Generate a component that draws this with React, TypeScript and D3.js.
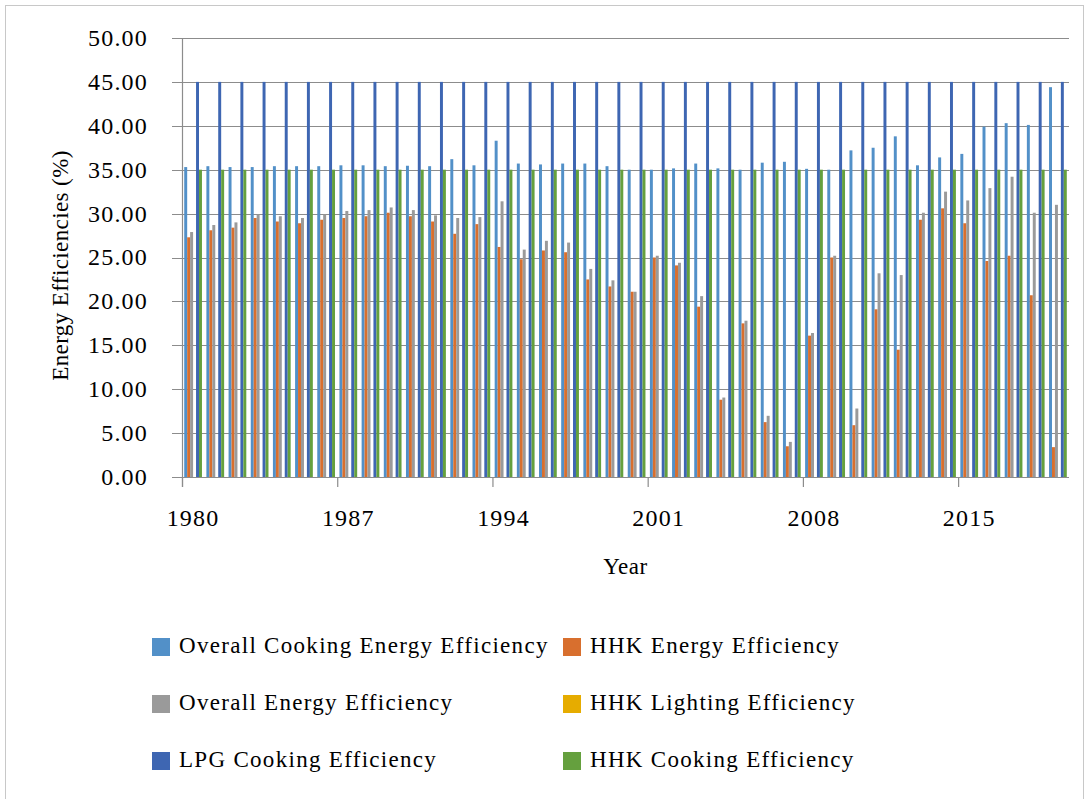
import * as d3 from 'd3';

const years = [
  1980, 1981, 1982, 1983, 1984, 1985, 1986, 1987, 1988, 1989,
  1990, 1991, 1992, 1993, 1994, 1995, 1996, 1997, 1998, 1999,
  2000, 2001, 2002, 2003, 2004, 2005, 2006, 2007, 2008, 2009,
  2010, 2011, 2012, 2013, 2014, 2015, 2016, 2017, 2018, 2019,
];

const overallCooking = [
  35.3, 35.4, 35.3, 35.3, 35.4, 35.4, 35.4, 35.5, 35.5, 35.4,
  35.45, 35.4, 36.2, 35.5, 38.3, 35.7, 35.6, 35.7, 35.7, 35.4,
  35.0, 35.0, 35.15, 35.7, 35.15, 35.0, 35.8, 35.9, 35.1, 35.0,
  37.2, 37.5, 38.8, 35.5, 36.4, 36.8, 39.9, 40.3, 40.1, 44.4,
];

const hhkEnergy = [
  27.3, 28.1, 28.4, 29.5, 29.1, 28.9, 29.3, 29.5, 29.7, 30.1,
  29.7, 29.1, 27.7, 28.8, 26.2, 24.8, 25.8, 25.6, 22.5, 21.7,
  21.1, 25.0, 24.1, 19.4, 8.8, 17.5, 6.25, 3.5, 16.1, 25.0,
  5.9, 19.1, 14.5, 29.3, 30.6, 28.9, 24.6, 25.2, 20.7, 3.4,
];

const overallEnergy = [
  27.9, 28.7, 29.0, 29.9, 29.7, 29.5, 29.9, 30.3, 30.4, 30.7,
  30.4, 29.8, 29.5, 29.6, 31.4, 25.9, 26.9, 26.7, 23.7, 22.4,
  21.1, 25.2, 24.4, 20.6, 9.05, 17.8, 6.97, 4.0, 16.4, 25.2,
  7.8, 23.2, 23.0, 30.1, 32.5, 31.5, 32.9, 34.2, 30.1, 31.0,
];

const hhkLighting = [
  0, 0, 0, 0, 0, 0, 0, 0, 0, 0,
  0, 0, 0, 0, 0, 0, 0, 0, 0, 0,
  0, 0, 0, 0, 0, 0, 0, 0, 0, 0,
  0, 0, 0, 0, 0, 0, 0, 0, 0, 0,
];

const lpgCooking = [
  45, 45, 45, 45, 45, 45, 45, 45, 45, 45,
  45, 45, 45, 45, 45, 45, 45, 45, 45, 45,
  45, 45, 45, 45, 45, 45, 45, 45, 45, 45,
  45, 45, 45, 45, 45, 45, 45, 45, 45, 45,
];

const hhkCooking = [
  35, 35, 35, 35, 35, 35, 35, 35, 35, 35,
  35, 35, 35, 35, 35, 35, 35, 35, 35, 35,
  35, 35, 35, 35, 35, 35, 35, 35, 35, 35,
  35, 35, 35, 35, 35, 35, 35, 35, 35, 35,
];

const seriesNames = [
  'Overall Cooking Energy Efficiency',
  'HHK Energy Efficiency',
  'Overall Energy Efficiency',
  'HHK Lighting Efficiency',
  'LPG Cooking Efficiency',
  'HHK Cooking Efficiency',
];
const seriesValues = [overallCooking, hhkEnergy, overallEnergy, hhkLighting, lpgCooking, hhkCooking];
const colors = ['#5290c8', '#d86f2e', '#9a9a9a', '#e6ac00', '#3e66b2', '#65a03e'];

const W = 1090;
const H = 799;
const margin = { left: 182, right: 21, top: 38, bottom: 322 };
const font = '"Liberation Serif", "Times New Roman", serif';

export default function App() {
  const x = d3.scaleBand<number>()
    .domain(years)
    .range([margin.left, W - margin.right])
    .paddingInner(0)
    .paddingOuter(0);

  // six bars per year, gap of ~150% of a bar width
  const inner = d3.scaleBand<number>()
    .domain(d3.range(seriesNames.length))
    .range([0, x.bandwidth()])
    .paddingOuter(0.75)
    .paddingInner(0);

  const y = d3.scaleLinear()
    .domain([0, 50])
    .range([H - margin.bottom, margin.top]);

  const yTicks = y.ticks(10);
  const gridColor = '#8c8c8c';
  const x0 = margin.left;
  const x1 = W - margin.right;

  return (
    <div style={{ position: 'absolute', left: 0, top: 0 }}>
      <svg width={W} height={H} style={{ display: 'block', background: '#fff' }}>
        <rect x={5.5} y={5.5} width={1078} height={800} fill="#fff" stroke="#c8c8c8" />

        {/* grid + y ticks */}
        {yTicks.map(t => (
          <g key={t}>
            <line x1={x0 - 10} x2={x1} y1={Math.round(y(t)) + 0.5} y2={Math.round(y(t)) + 0.5}
              stroke={gridColor} strokeWidth={1.2} />
            <text x={148} y={y(t)} dy="0.33em" textAnchor="end" fontFamily={font}
              fontSize={24} letterSpacing={1.2} fill="#000">{t.toFixed(2)}</text>
          </g>
        ))}

        {/* bars */}
        {years.map((yr, i) => (
          <g key={yr} transform={`translate(${x(yr)},0)`}>
            {seriesValues.map((vals, s) => (
              <rect key={s} x={inner(s)} width={inner.bandwidth()}
                y={y(vals[i])} height={y(0) - y(vals[i])} fill={colors[s]} />
            ))}
          </g>
        ))}

        {/* axes */}
        <line x1={x0 + 0.5} x2={x0 + 0.5} y1={margin.top} y2={y(0) + 10} stroke={gridColor} strokeWidth={1.2} />
        {years.map((yr, i) => i % 7 === 0 ? (
          <g key={yr}>
            <line x1={(x(yr) as number) + 0.5} x2={(x(yr) as number) + 0.5} y1={y(0)} y2={y(0) + 10}
              stroke={gridColor} strokeWidth={1.2} />
            <text x={(x(yr) as number) + x.bandwidth() / 2} y={526} textAnchor="middle"
              fontFamily={font} fontSize={24} letterSpacing={1.2} fill="#000">{yr}</text>
          </g>
        ) : null)}
        <line x1={x0} x2={x1} y1={Math.round(y(0)) + 0.5} y2={Math.round(y(0)) + 0.5} stroke={gridColor} strokeWidth={1.2} />

        {/* titles */}
        <text x={(x0 + x1) / 2} y={574} textAnchor="middle" fontFamily={font} fontSize={23} letterSpacing={0.5} fill="#000">Year</text>
        <text transform={`translate(68,${(margin.top + y(0)) / 2 + 8}) rotate(-90)`} textAnchor="middle"
          fontFamily={font} fontSize={23} letterSpacing={0.4} fill="#000">Energy Efficiencies (%)</text>

        {/* legend */}
        {seriesNames.map((name, s) => {
          const col = s % 2;
          const row = Math.floor(s / 2);
          const lx = col === 0 ? 152 : 563;
          const ly = 638 + row * 57;
          return (
            <g key={name}>
              <rect x={lx} y={ly} width={18} height={18} fill={colors[s]} />
              <text x={lx + 27} y={ly + 15} fontFamily={font} fontSize={23} letterSpacing={1.3} fill="#000">{name}</text>
            </g>
          );
        })}
      </svg>
    </div>
  );
}
